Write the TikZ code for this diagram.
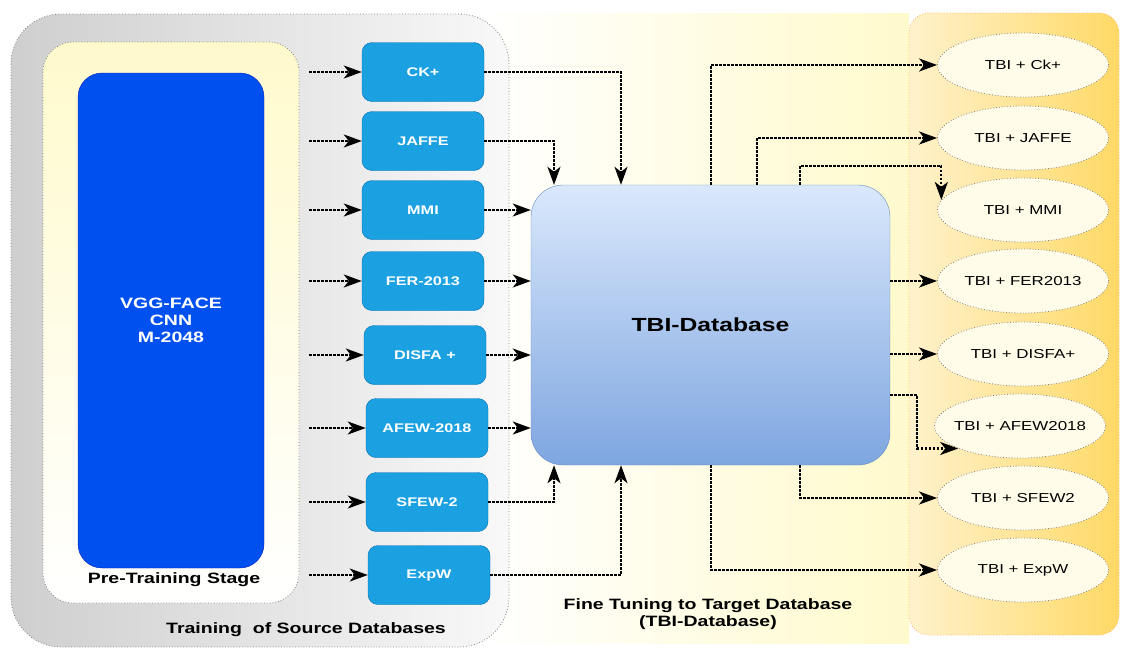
\documentclass[tikz,border=0pt]{standalone}
\usepackage{fontspec}
\setmainfont[FakeStretch=1.3]{Liberation Sans}
\usetikzlibrary{arrows.meta,calc,positioning,shapes.geometric}

\definecolor{srcblue}{HTML}{1BA1E2}
\definecolor{srcedge}{HTML}{006EAF}
\definecolor{vggblue}{HTML}{0050EF}
\definecolor{vggedge}{HTML}{001DBC}
\definecolor{tbitop}{HTML}{DAE8FC}
\definecolor{tbibot}{HTML}{7EA6E0}
\definecolor{tbiedge}{HTML}{6C8EBF}
\definecolor{pale}{HTML}{FFFACC}
\definecolor{cream}{HTML}{FFFDE9}
\definecolor{orangeL}{HTML}{FFF2CC}
\definecolor{orangeR}{HTML}{FFD966}

\begin{document}
\begin{tikzpicture}[x=1pt,y=-1pt,
    src/.style={draw=srcedge,fill=srcblue,rounded corners=10pt,minimum width=122pt,
        minimum height=59pt,text=white,font=\fontsize{12.5}{15}\selectfont\bfseries},
    tgt/.style={ellipse,draw=gray,dotted,line width=0.8pt,fill=cream,inner xsep=-8pt,
        inner ysep=0pt,minimum width=171pt,minimum height=64pt,
        font=\fontsize{13}{15}\selectfont},
    region/.style={draw=gray,dotted,line width=0.8pt},
    lbl/.style={font=\fontsize{15}{17}\selectfont\bfseries,align=center},
    conn/.style={line width=2.2pt,dash pattern=on 2.5pt off 1.5pt,
        -{Stealth[length=18pt,width=13pt,inset=5pt]}}]
    \useasboundingbox (0,0) rectangle (1121,648);

    % background regions
    \fill[left color=white,right color=pale] (478,13) rectangle (909,643);
    \draw[region,draw=orange!60,left color=orangeL,right color=orangeR,rounded corners=20pt]
        (909,13) rectangle (1119,635);
    \draw[region,left color=gray!38,right color=gray!5,rounded corners=50pt]
        (11,14) rectangle (509,647);
    \draw[region,top color=pale,bottom color=white,rounded corners=30pt]
        (43,42) rectangle (299,603);

    \node[draw=vggedge,fill=vggblue,rounded corners=24pt,minimum width=186pt,
        minimum height=495pt,text=white,font=\fontsize{15}{17}\selectfont\bfseries,
        align=center] (vgg) at (171,320.5) {VGG-FACE\\CNN\\M-2048};
    \node[lbl] (pretrain) at (174,580) {Pre-Training Stage};
    \node[lbl] (training) at (306,630) {Training\ \ of Source Databases};
    \node[lbl] (finetune) at (708,614) {Fine Tuning to Target Database\\(TBI-Database)};

    % source databases
    \node[src] (ck) at (423,72) {CK+};
    \node[src] (jaffe) at (423,141) {JAFFE};
    \node[src] (mmi) at (423,210) {MMI};
    \node[src] (fer) at (423,281) {FER-2013};
    \node[src] (disfa) at (425,355) {DISFA +};
    \node[src] (afew) at (427,428) {AFEW-2018};
    \node[src] (sfew) at (427,502) {SFEW-2};
    \node[src] (expw) at (429,575) {ExpW};

    \node[draw=tbiedge,top color=tbitop,bottom color=tbibot,rounded corners=32pt,
        minimum width=359pt,minimum height=280pt,
        font=\fontsize{19}{22}\selectfont\bfseries] (tbi) at (710.5,325) {TBI-Database};

    % target databases
    \node[tgt] (tck) at (1023,65) {TBI + Ck+};
    \node[tgt] (tjaffe) at (1023,138) {TBI + JAFFE};
    \node[tgt] (tmmi) at (1023,210) {TBI + MMI};
    \node[tgt] (tfer) at (1023,281) {TBI + FER2013};
    \node[tgt] (tdisfa) at (1023,354) {TBI + DISFA+};
    \node[tgt] (tafew) at (1020,426) {TBI + AFEW2018};
    \node[tgt] (tsfew) at (1023,498) {TBI + SFEW2};
    \node[tgt] (texpw) at (1023,570) {TBI + ExpW};

    % pre-training -> sources
    \foreach \n in {ck,jaffe,mmi,fer,disfa,afew,sfew,expw} {
        \coordinate (in\n) at (309,0 |- \n.west);
        \draw[conn] (in\n) -- (\n.west);
    }

    % sources -> TBI
    \draw[conn] (ck.east) -| (621,0 |- tbi.north);
    \draw[conn] (jaffe.east) -| (554,0 |- tbi.north);
    \foreach \n in {mmi,fer,disfa,afew}
        \draw[conn] (\n.east) -- (\n.east -| tbi.west);
    \draw[conn] (sfew.east) -| (554,0 |- tbi.south);
    \draw[conn] (expw.east) -| (621,0 |- tbi.south);

    % TBI -> targets
    \coordinate (mmiturn) at (tmmi.173 |- 0,166);
    \draw[conn] (711,0 |- tbi.north) |- (tck.west);
    \draw[conn] (757,0 |- tbi.north) |- (tjaffe.west);
    \draw[conn] (800,0 |- tbi.north) |- (mmiturn) -- (tmmi.173);
    \draw[conn] (tbi.east |- tfer.west) -- (tfer.west);
    \draw[conn] (tbi.east |- tdisfa.west) -- (tdisfa.west);
    \draw[conn] (tbi.east |- 0,395) -| (917,0 |- tafew.200) -- (tafew.200);
    \draw[conn] (800,0 |- tbi.south) |- (tsfew.west);
    \draw[conn] (711,0 |- tbi.south) |- (texpw.west);
\end{tikzpicture}
\end{document}
